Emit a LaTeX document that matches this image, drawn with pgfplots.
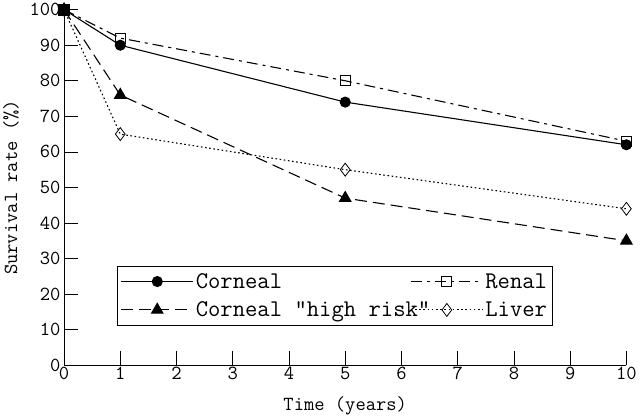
\documentclass[border=0pt]{standalone}
\usepackage{pgfplots}
\pgfplotsset{compat=1.18}
\usepackage{fontspec}
\begin{document}
\begin{tikzpicture}
\begin{axis}[
  scale only axis,
  width=563bp, height=356bp,
  xmin=0, xmax=10, ymin=0, ymax=100,
  axis x line=bottom, axis y line=left,
  axis line style={-, line width=0.9pt},
  xtick={0,...,10}, ytick={0,10,...,100},
  tick align=inside,
  major tick length=14bp,
  tick style={line width=0.7pt, black},
  every tick label/.append style={font=\ttfamily\fontsize{20bp}{22bp}\selectfont},
  /pgf/number format/assume math mode=true,
  xticklabel style={yshift=1.5bp},
  xlabel={Time (years)},
  ylabel={Survival rate (\%)},
  label style={font=\ttfamily\fontsize{20bp}{22bp}\selectfont},
  xlabel style={yshift=-10bp},
  ylabel style={yshift=4bp},
  clip=false,
  legend columns=2,
  legend style={at={(axis cs:0.95,27.9)}, anchor=north west,
    font=\ttfamily\fontsize{24bp}{26bp}\selectfont, draw=black, line width=0.6pt,
    inner xsep=3bp, inner ysep=5bp, row sep=8bp,
    /tikz/column 2/.style={column sep=-22bp}},
  legend cell align=left,
  legend image code/.code={
    \draw[#1, mark=none] (0bp,0bp) -- (72bp,0bp);
    \draw[#1, solid] plot coordinates {(36bp,0bp)};
  },
]
\addplot[black, line width=1.1pt, mark=*, mark size=5bp, mark options={solid, fill=black}]
  coordinates {(0,100) (1,90) (5,74) (10,62)};
\addlegendentry{Corneal}
\addplot[black, line width=1.1pt, dash pattern=on 11bp off 5bp on 3bp off 5bp, mark=square, mark size=5bp, mark options={solid, fill=white, line width=0.8pt}]
  coordinates {(0,100) (1,92) (5,80) (10,63)};
\addlegendentry{Renal}
\addplot[black, line width=1.1pt, dash pattern=on 12bp off 6bp, mark=triangle*, mark size=6.5bp, mark options={solid, fill=black}]
  coordinates {(0,100) (1,76) (5,47) (10,35)};
\addlegendentry{Corneal \symbol{34}high risk\symbol{34}}
\addplot[black, line width=1.1pt, dash pattern=on 1.6bp off 2.6bp, mark=diamond, mark size=6.5bp, mark options={solid, fill=white, line width=0.8pt}]
  coordinates {(0,100) (1,65) (5,55) (10,44)};
\addlegendentry{Liver}
\addplot[black, mark=square*, mark size=5.5bp, only marks, forget plot] coordinates {(0,100)};
\end{axis}
\end{tikzpicture}
\end{document}
